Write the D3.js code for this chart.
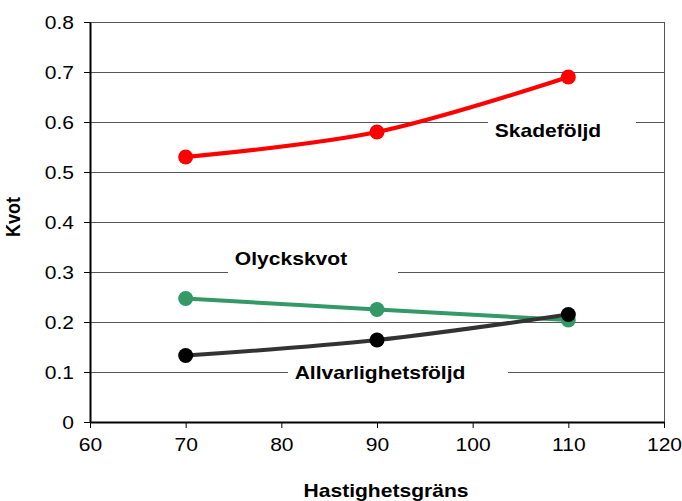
<!DOCTYPE html>
<html>
<head>
<meta charset="utf-8">
<script src="https://cdn.jsdelivr.net/npm/d3@7"></script>
<style>
  html, body { margin: 0; padding: 0; background: #fff; }
  svg { display: block; font-family: "Liberation Sans", Arial, sans-serif; }
</style>
</head>
<body>
<svg id="chart" width="682" height="501"></svg>
<script>
// Speed limits (km/h) and ratios per series
const speeds = [70, 90, 110];
const skadefoljd = [0.53, 0.58, 0.69];
const olyckskvot = [0.247, 0.225, 0.204];
const allvarlighetsfoljd = [0.133, 0.164, 0.215];

const xTicks = [60, 70, 80, 90, 100, 110, 120];
const yTicks = [0, 0.1, 0.2, 0.3, 0.4, 0.5, 0.6, 0.7, 0.8];

const seriesNames = ["Skadeföljd", "Olyckskvot", "Allvarlighetsföljd"];
const seriesValues = [skadefoljd, olyckskvot, allvarlighetsfoljd];

const SX = 1.17; // horizontal text stretch

const svg = d3.select("#chart");
const plot = { left: 90, right: 664, top: 22, bottom: 422 };

const x = d3.scaleLinear().domain([60, 120]).range([plot.left, plot.right]);
const y = d3.scaleLinear().domain([0, 0.8]).range([plot.bottom, plot.top]);

// Horizontal gridlines
svg.append("g").selectAll("line")
  .data(yTicks.filter(d => d > 0))
  .join("line")
  .attr("x1", plot.left).attr("x2", plot.right)
  .attr("y1", d => Math.round(y(d)) + 0.5).attr("y2", d => Math.round(y(d)) + 0.5)
  .attr("stroke", "#555").attr("stroke-width", 1);

// Right border
svg.append("line")
  .attr("x1", plot.right + 0.5).attr("x2", plot.right + 0.5)
  .attr("y1", plot.top).attr("y2", plot.bottom)
  .attr("stroke", "#555").attr("stroke-width", 1);

// Axes
const fmtY = d => d === 0 ? "0" : d3.format(".1f")(d);
const yAxis = svg.append("g")
  .attr("transform", `translate(${plot.left},0)`)
  .call(d3.axisLeft(y).tickValues(yTicks).tickFormat(fmtY).tickSize(6).tickSizeOuter(0));
const xAxis = svg.append("g")
  .attr("transform", `translate(0,${plot.bottom})`)
  .call(d3.axisBottom(x).tickValues(xTicks).tickFormat(d3.format("d")).tickSize(6).tickSizeOuter(0));

[yAxis, xAxis].forEach(g => {
  g.select(".domain").attr("stroke", "#000").attr("stroke-width", 2);
  g.selectAll(".tick line").attr("stroke", "#000");
  g.selectAll(".tick text")
    .attr("font-family", "Liberation Sans, Arial, sans-serif")
    .attr("font-size", 18).attr("fill", "#000");
});
yAxis.selectAll(".tick text")
  .attr("x", -16 / SX).attr("dy", "0.35em")
  .attr("transform", `scale(${SX},1)`);
xAxis.selectAll(".tick text")
  .attr("y", 16).attr("dy", "0.71em")
  .attr("transform", `scale(${SX},1)`);

// Stretched text helper
function stretchedText(g, px, py, txt, opts = {}) {
  return g.append("g")
    .attr("transform", `translate(${px},${py}) scale(${SX},1)` + (opts.rotate ? ` rotate(${opts.rotate})` : ""))
    .append("text")
    .attr("text-anchor", opts.anchor || "middle")
    .attr("font-size", opts.size || 18)
    .attr("font-weight", opts.weight || "normal")
    .attr("fill", "#000")
    .text(txt);
}

// Axis titles
stretchedText(svg, 386, 497, "Hastighetsgräns", { weight: "bold" });
stretchedText(svg, 20, 217, "Kvot", { weight: "bold", rotate: -90 });

// Series label boxes (white background hides gridlines)
const labelBoxes = [
  { x0: 488, x1: 636, cx: 548, base: 137 },
  { x0: 228, x1: 398, cx: 291, base: 265 },
  { x0: 288, x1: 508, cx: 380, base: 379 }
];
const lblG = svg.append("g");
labelBoxes.forEach((b, i) => {
  lblG.append("rect")
    .attr("x", b.x0).attr("y", b.base - 22)
    .attr("width", b.x1 - b.x0).attr("height", 30)
    .attr("fill", "#fff");
  stretchedText(lblG, b.cx, b.base, seriesNames[i], { weight: "bold" });
});

// Series lines and markers
const colors = ["#ff0000", "#339966", "#333333"];
const markerColors = ["#ff0000", "#339966", "#000000"];
const line = d3.line()
  .x(d => x(d[0]))
  .y(d => y(d[1]))
  .curve(d3.curveCatmullRom.alpha(0.5));

seriesValues.forEach((vals, i) => {
  const pts = speeds.map((s, j) => [s, vals[j]]);
  svg.append("path")
    .datum(pts)
    .attr("d", line)
    .attr("fill", "none")
    .attr("stroke", colors[i])
    .attr("stroke-width", 4)
    .attr("stroke-linecap", "round");
});
seriesValues.forEach((vals, i) => {
  svg.append("g").selectAll("circle")
    .data(speeds.map((s, j) => [s, vals[j]]))
    .join("circle")
    .attr("cx", d => x(d[0]))
    .attr("cy", d => y(d[1]))
    .attr("r", 7.5)
    .attr("fill", markerColors[i]);
});
</script>
</body>
</html>
